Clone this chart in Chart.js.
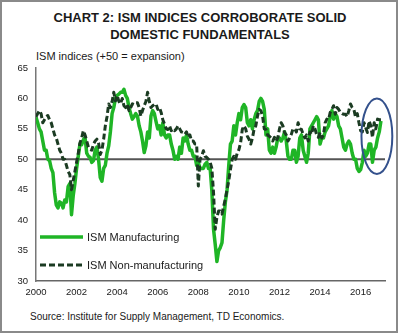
<!DOCTYPE html>
<html lang="en">
<head>
<meta charset="UTF-8">
<title>ISM indices</title>
<script src="https://cdn.jsdelivr.net/npm/chart.js"></script>
<style>
    body { margin: 0; font-family: Arial, "Liberation Sans", sans-serif; background: #fff; }
    #frame { position: absolute; left: 0; top: 0; width: 394px; height: 329px; border: 2px solid #8a8a8a; }
    .title { position: absolute; left: 0; width: 400px; text-align: center; font-weight: bold; font-size: 13px; color: #1a1a1a; }
    #unit { position: absolute; left: 36px; top: 50px; font-size: 11px; color: #1a1a1a; }
    #source { position: absolute; left: 30px; top: 311px; font-size: 10px; color: #1a1a1a; }
    canvas { position: absolute; left: 0; top: 0; }
</style>
</head>
<body>
<div id="frame"></div>
<div class="title" style="top:10px">CHART 2: ISM INDICES CORROBORATE SOLID</div>
<div class="title" style="top:27px">DOMESTIC FUNDAMENTALS</div>
<div id="unit">ISM indices (+50 = expansion)</div>
<div id="source">Source: Institute for Supply Management, TD Economics.</div>
<canvas id="ismChart" width="400" height="335"></canvas>

<script>
// monthly, Jan 2000 .. Jan 2017
const startYear = 2000;
const mfg = [
    56.9, 56.0, 55.0, 54.5, 53.0, 51.5, 51.5, 50.0, 49.8, 48.5, 47.8, 44.5, // 2000
    42.5, 42.0, 43.0, 42.8, 42.0, 43.3, 43.0, 45.5, 46.0, 40.9, 44.0, 46.0, // 2001
    48.5, 50.5, 52.5, 52.4, 53.2, 53.6, 51.0, 50.5, 50.3, 49.5, 49.8, 51.5, // 2002
    52.0, 50.0, 47.0, 46.4, 48.5, 49.0, 51.0, 52.2, 54.5, 57.5, 58.5, 60.0, // 2003
    60.5, 60.7, 61.0, 61.0, 61.5, 60.5, 60.0, 58.5, 57.5, 56.6, 57.0, 57.5, // 2004
    57.1, 55.5, 54.5, 53.0, 51.1, 52.2, 54.5, 53.5, 57.1, 58.0, 57.5, 56.2, // 2005
    55.0, 55.5, 54.0, 56.0, 54.0, 53.5, 54.0, 54.0, 52.5, 51.5, 50.0, 50.5, // 2006
    50.0, 52.0, 51.0, 53.5, 53.0, 54.0, 52.5, 51.5, 51.5, 50.5, 50.5, 49.0, // 2007
    49.5, 48.5, 48.5, 48.5, 49.2, 49.5, 48.5, 48.5, 44.8, 38.5, 36.0, 33.2, // 2008
    35.0, 35.5, 36.3, 40.0, 43.0, 45.0, 49.0, 52.5, 53.0, 55.5, 54.0, 56.0, // 2009
    57.5, 56.5, 58.5, 59.0, 58.5, 56.0, 55.5, 56.5, 55.0, 56.5, 57.5, 58.0, // 2010
    59.5, 60.0, 59.5, 58.2, 54.0, 55.0, 51.5, 51.0, 52.0, 51.0, 52.0, 53.5, // 2011
    53.5, 53.0, 53.5, 54.5, 53.0, 50.5, 50.0, 50.0, 51.5, 51.5, 49.5, 50.5, // 2012
    53.5, 54.0, 51.5, 50.5, 49.5, 51.0, 55.0, 55.5, 56.0, 56.5, 57.0, 56.5, // 2013
    52.5, 53.5, 53.5, 54.5, 55.0, 55.5, 57.0, 58.0, 56.6, 57.5, 57.0, 55.5, // 2014
    55.0, 53.5, 52.0, 51.5, 52.5, 53.0, 52.5, 51.0, 50.0, 50.0, 48.5, 48.0, // 2015
    48.3, 49.5, 51.5, 50.5, 51.0, 52.5, 52.5, 49.5, 51.5, 52.0, 53.5, 54.5, // 2016
    56.3                                                                    // 2017
];
const nonMfg = [
    57.0, 57.5, 58.0, 57.5, 56.0, 56.5, 57.0, 57.2, 56.5, 56.0, 55.0, 54.0, // 2000
    53.5, 52.5, 51.5, 51.0, 50.0, 50.0, 49.0, 48.0, 47.5, 45.0, 46.5, 48.0, // 2001
    49.5, 51.0, 52.7, 53.5, 54.7, 54.0, 53.0, 52.0, 51.6, 51.5, 52.5, 53.0, // 2002
    53.3, 52.7, 50.8, 51.5, 53.3, 55.5, 57.0, 59.1, 58.5, 59.5, 61.0, 59.6, // 2003
    60.5, 59.5, 59.1, 60.0, 58.8, 58.5, 59.0, 58.0, 58.5, 59.1, 59.0, 59.3, // 2004
    59.3, 58.5, 57.1, 58.0, 58.8, 59.5, 61.0, 59.5, 58.5, 58.8, 59.0, 59.1, // 2005
    58.2, 58.5, 57.7, 56.5, 55.8, 55.0, 54.9, 55.5, 54.7, 55.0, 54.7, 55.0, // 2006
    55.5, 55.0, 54.5, 54.4, 54.1, 54.5, 53.6, 54.0, 53.0, 53.0, 52.5, 52.5, // 2007
    45.6, 50.0, 50.5, 51.4, 50.5, 50.3, 50.0, 49.5, 48.5, 44.5, 38.5, 40.5, // 2008
    41.5, 41.5, 41.0, 42.3, 43.5, 45.0, 46.5, 48.3, 50.0, 50.5, 50.0, 51.0, // 2009
    51.6, 52.7, 54.9, 55.5, 55.0, 53.8, 53.3, 52.5, 53.5, 55.0, 55.5, 57.1, // 2010
    58.2, 58.0, 57.1, 55.0, 54.9, 54.0, 53.8, 53.5, 53.0, 53.6, 53.0, 53.5, // 2011
    55.0, 56.0, 55.5, 54.4, 54.0, 53.0, 53.5, 54.1, 55.0, 55.0, 54.5, 56.0, // 2012
    55.0, 54.9, 54.1, 53.5, 54.0, 53.0, 54.5, 54.1, 55.5, 55.0, 54.0, 53.6, // 2013
    54.4, 53.5, 54.0, 56.0, 56.6, 56.5, 57.7, 58.2, 58.8, 57.4, 58.5, 58.2, // 2014
    57.7, 57.5, 57.4, 57.4, 57.0, 58.0, 59.1, 58.5, 58.2, 56.9, 57.5, 56.0, // 2015
    54.7, 54.5, 56.0, 55.2, 54.4, 56.3, 55.5, 53.6, 56.0, 55.0, 56.6, 56.5, // 2016
    56.5                                                                    // 2017
];
const seriesNames = ["ISM Manufacturing", "ISM Non-manufacturing"];
const xTicks = [2000, 2002, 2004, 2006, 2008, 2010, 2012, 2014, 2016];
const yTicks = [30, 35, 40, 45, 50, 55, 60, 65];

const toPoints = arr => arr.map((v, i) => ({ x: startYear + i / 12, y: v }));

// circled area at the end of the series (data units)
const highlight = { x: 2016.8, y: 53.8, rx: 0.76, ry: 6.2 };

const extras = {
    id: "extras",
    beforeDatasetsDraw(chart) {
        const { ctx, chartArea, scales } = chart;
        const y50 = scales.y.getPixelForValue(50);
        ctx.save();
        ctx.strokeStyle = "#555";
        ctx.lineWidth = 2;
        ctx.beginPath();
        ctx.moveTo(chartArea.left, y50);
        ctx.lineTo(chartArea.right, y50);
        ctx.stroke();
        ctx.restore();
    },
    afterDraw(chart) {
        const { ctx, chartArea, scales } = chart;
        ctx.save();
        // ellipse
        const cx = scales.x.getPixelForValue(highlight.x);
        const cy = scales.y.getPixelForValue(highlight.y);
        const rx = scales.x.getPixelForValue(highlight.x + highlight.rx) - cx;
        const ry = cy - scales.y.getPixelForValue(highlight.y + highlight.ry);
        ctx.strokeStyle = "#34518c";
        ctx.lineWidth = 2;
        ctx.beginPath();
        ctx.ellipse(cx, cy, rx, ry, 0, 0, Math.PI * 2);
        ctx.stroke();

        // legend inside the plot
        const rows = [237, 265];
        chart.data.datasets.forEach((ds, i) => {
            const y = rows[i];
            const x0 = chartArea.left + 4;
            ctx.strokeStyle = ds.borderColor;
            ctx.lineWidth = ds.borderWidth;
            ctx.setLineDash(ds.borderDash || []);
            ctx.beginPath();
            ctx.moveTo(x0, y);
            ctx.lineTo(x0 + 43, y);
            ctx.stroke();
            ctx.setLineDash([]);
            ctx.fillStyle = "#1a1a1a";
            ctx.font = "11px Arial, 'Liberation Sans', sans-serif";
            ctx.textBaseline = "middle";
            ctx.fillText(ds.label, x0 + 47, y + 0.5);
        });
        ctx.restore();
    }
};

new Chart(document.getElementById("ismChart"), {
    type: "line",
    data: {
        datasets: [
            { label: seriesNames[0], data: toPoints(mfg), borderColor: "#1fb526", borderWidth: 3.5, order: 1 },
            { label: seriesNames[1], data: toPoints(nonMfg), borderColor: "#1b3b22", borderWidth: 3, borderDash: [6, 3], order: 0 }
        ]
    },
    options: {
        responsive: false,
        animation: false,
        elements: { point: { radius: 0 }, line: { tension: 0, borderJoinStyle: "round" } },
        layout: { padding: { left: 0, top: 68, right: 15, bottom: 34 } },
        plugins: { legend: { display: false }, tooltip: { enabled: false } },
        scales: {
            x: {
                type: "linear",
                min: 2000,
                max: 2017.2,
                afterBuildTicks: s => { s.ticks = xTicks.map(v => ({ value: v })); },
                afterFit: s => { s.height = 20; },
                grid: { display: true, drawOnChartArea: false, drawTicks: false },
                border: { display: true, color: "#666", width: 1.5 },
                ticks: { padding: 6, color: "#1a1a1a", font: { size: 9.5, family: "Arial, 'Liberation Sans', sans-serif" }, callback: v => String(v), maxRotation: 0 }
            },
            y: {
                min: 30,
                max: 65,
                afterBuildTicks: s => { s.ticks = yTicks.map(v => ({ value: v })); },
                afterFit: s => { s.width = 36; },
                grid: { display: true, drawOnChartArea: false, drawTicks: false },
                border: { display: true, color: "#777", width: 1.5 },
                ticks: { padding: 8, color: "#1a1a1a", font: { size: 9.5, family: "Arial, 'Liberation Sans', sans-serif" } }
            }
        }
    },
    plugins: [extras]
});
</script>
</body>
</html>
